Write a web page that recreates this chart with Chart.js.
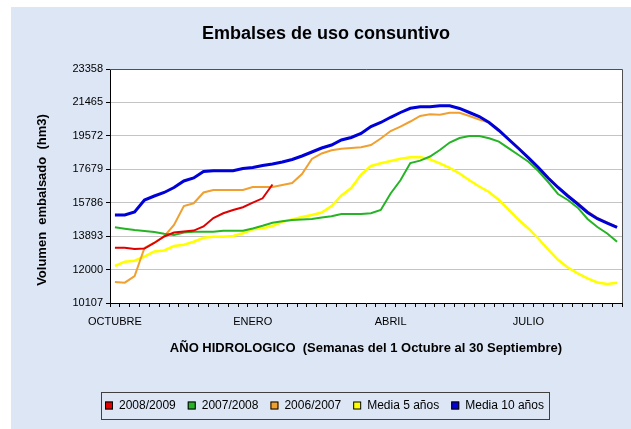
<!DOCTYPE html>
<html><head><meta charset="utf-8">
<script src="https://cdn.jsdelivr.net/npm/chart.js@4"></script>
<style>html,body{margin:0;padding:0;background:#fff;}#wrap{width:631px;height:429px;position:relative;}</style>
</head><body><div id="wrap"><canvas id="c"></canvas></div>
<script>
const FONT = '"Liberation Sans", Arial, sans-serif';
const titleText = 'Embalses de uso consuntivo';
const xTitle = 'AÑO HIDROLOGICO  (Semanas del 1 Octubre al 30 Septiembre)';
const yTitle = 'Volumen  embalsado  (hm3)';

const weeks = ['1','2','3','4','5','6','7','8','9','10','11','12','13','14','15','16','17','18','19','20','21','22','23','24','25','26',
  '27','28','29','30','31','32','33','34','35','36','37','38','39','40','41','42','43','44','45','46','47','48','49','50','51','52'];
const monthTickIndex = [0, 14, 28, 42];
const monthTickText = ['OCTUBRE', 'ENERO', 'ABRIL', 'JULIO'];
const yTicks = [10107, 12000, 13893, 15786, 17679, 19572, 21465, 23358];

const s2008_2009 = [13239,13239,13165,13193,13505,13873,14099,14156,14207,14439,14921,15187,15374,15532,15787,16036,16817];
const s2007_2008 = [14394,14315,14241,14184,14128,14031,13958,14094,14145,14145,14145,14201,14201,14201,14326,14479,14649,14734,14807,14841,
  14864,14949,15022,15147,15147,15147,15192,15374,16308,17055,18035,18171,18403,18771,19196,19451,19564,19564,19440,19247,
  18862,18488,18103,17582,16959,16280,15940,15504,14864,14411,14043,13573];
const s2006_2007 = [11296,11257,11636,13222,13533,13873,14524,15600,15753,16365,16506,16506,16506,16506,16676,16676,16676,16789,16903,17412,
  18262,18573,18754,18839,18885,18930,19055,19423,19847,20091,20385,20697,20799,20765,20884,20878,20697,20499,20329,19910,
  19400,18890,18360,17810,17220,16690,16210,15770,15300,14930,14670,14410];
const media5 = [12202,12446,12502,12740,13023,13080,13335,13403,13578,13799,13862,13862,13901,14060,14281,14337,14468,14705,14841,14977,
  15090,15232,15600,16194,16619,17383,17865,18018,18148,18273,18358,18375,18239,18018,17763,17441,17055,16704,16393,15940,
  15374,14819,14326,13760,13137,12553,12117,11789,11506,11268,11183,11257];
const media10 = [15090,15090,15260,15940,16166,16365,16648,17016,17186,17554,17600,17600,17600,17724,17780,17894,17979,18092,18234,18432,
  18658,18885,19055,19338,19480,19706,20100,20329,20624,20895,21133,21224,21224,21280,21280,21122,20895,20669,20329,19876,
  19366,18857,18330,17780,17186,16648,16166,15713,15232,14881,14637,14383];

const seriesLabels = ['2008/2009', '2007/2008', '2006/2007', 'Media 5 años', 'Media 10 años'];
const seriesColors = ['#e00000', '#26b426', '#f0a030', '#ffff00', '#0000d8'];
const seriesData = [s2008_2009, s2007_2008, s2006_2007, media5, media10];
const seriesWidth = [2, 2, 2, 2.5, 3];
const seriesOrder = [1, 2, 3, 4, 0];

const deco = {
  id: 'deco',
  beforeDraw(chart) {
    const c = chart.ctx, w = chart.width, h = chart.height, a = chart.chartArea;
    c.save();
    c.fillStyle = '#ffffff'; c.fillRect(0, 0, w, h);
    c.fillStyle = '#dce6f5'; c.fillRect(11, 7, w - 11, h - 7);
    c.fillStyle = '#ffffff'; c.fillRect(a.left, a.top, a.right - a.left, a.bottom - a.top);
    c.restore();
  },
  afterDraw(chart) {
    const c = chart.ctx, a = chart.chartArea;
    c.save();
    c.strokeStyle = '#505050'; c.lineWidth = 1;
    c.beginPath();
    c.moveTo(a.left, Math.round(a.top) + 0.5); c.lineTo(Math.round(a.right) + 0.5, Math.round(a.top) + 0.5);
    c.lineTo(Math.round(a.right) + 0.5, a.bottom);
    c.stroke();
    // y axis title
    c.fillStyle = '#000';
    c.font = 'bold 13px ' + FONT;
    c.textAlign = 'center'; c.textBaseline = 'middle';
    c.translate(42, 200); c.rotate(-Math.PI / 2);
    c.fillText(yTitle, 0, 0);
    c.setTransform(1, 0, 0, 1, 0, 0);
    // legend
    c.font = '12px ' + FONT;
    c.textAlign = 'left'; c.textBaseline = 'middle';
    const ly = 405.5;
    let x = 105;
    const startX = x;
    chart.data.datasets.forEach(ds => {
      c.fillStyle = ds.borderColor;
      c.fillRect(x, ly - 4, 8, 8);
      c.strokeStyle = '#000'; c.lineWidth = 1;
      c.strokeRect(x + 0.5, ly - 3.5, 7, 7);
      c.fillStyle = '#000';
      c.fillText(ds.label, x + 14, ly);
      x += 14 + c.measureText(ds.label).width + 12;
    });
    const endX = x - 12 + 5;
    c.strokeStyle = '#404040';
    c.strokeRect(Math.round(startX - 4) + 0.5, 392.5, Math.round(endX - startX + 4), 27);
    c.restore();
  }
};

new Chart(document.getElementById('c'), {
  type: 'line',
  data: {
    labels: weeks,
    datasets: seriesLabels.map((lab, k) => ({
      label: lab,
      data: seriesData[k],
      borderColor: seriesColors[k],
      backgroundColor: seriesColors[k],
      borderWidth: seriesWidth[k],
      pointRadius: 0,
      tension: 0,
      fill: false,
      order: seriesOrder[k]
    }))
  },
  options: {
    responsive: true,
    maintainAspectRatio: false,
    animation: false,
    events: [],
    layout: { padding: { left: 30, right: 9, top: 0, bottom: 73 } },
    plugins: {
      legend: { display: false },
      tooltip: { enabled: false },
      title: {
        display: true, text: titleText, color: '#000',
        font: { family: FONT, size: 18, weight: 'bold' },
        padding: { top: 23, bottom: 24.4 }
      }
    },
    scales: {
      x: {
        offset: true,
        grid: { offset: true, drawOnChartArea: false, tickLength: 4, tickColor: '#000' },
        border: { color: '#000', width: 1 },
        ticks: {
          autoSkip: false, maxRotation: 0, padding: 8, color: '#000',
          font: { family: FONT, size: 11 },
          callback: (v, i) => { const p = monthTickIndex.indexOf(i); return p >= 0 ? monthTickText[p] : ''; }
        },
        title: {
          display: true, text: xTitle, color: '#000',
          font: { family: FONT, size: 13, weight: 'bold' },
          padding: { top: 12.5, bottom: 0 }
        },
        afterFit: s => { s.height = 53; }
      },
      y: {
        min: yTicks[0], max: yTicks[yTicks.length - 1],
        afterBuildTicks: s => { s.ticks = yTicks.map(v => ({ value: v })); },
        grid: { color: '#c4c4c4', tickColor: '#000', tickLength: 4 },
        border: { color: '#000', width: 1 },
        ticks: {
          padding: 3, color: '#000',
          font: { family: FONT, size: 11 },
          callback: v => String(Math.round(v))
        },
        afterFit: s => { s.width = 80; }
      }
    }
  },
  plugins: [deco]
});
</script>
</body></html>
